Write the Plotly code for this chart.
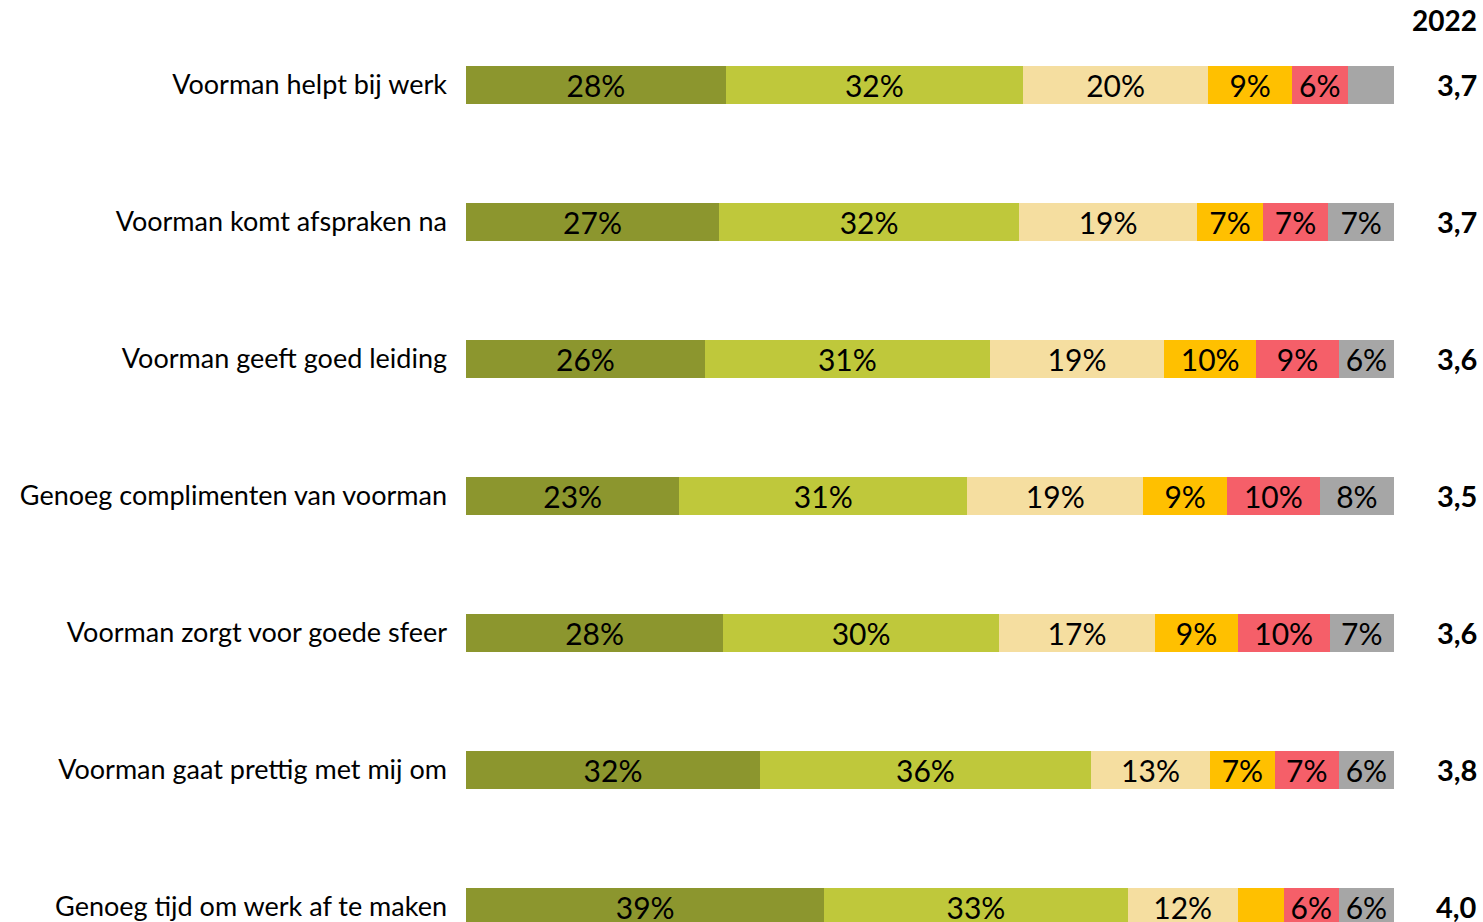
import plotly.graph_objects as go

# Survey statements (top to bottom)
categories = [
    "Voorman helpt bij werk",
    "Voorman komt afspraken na",
    "Voorman geeft goed leiding",
    "Genoeg complimenten van voorman",
    "Voorman zorgt voor goede sfeer",
    "Voorman gaat prettig met mij om",
    "Genoeg tijd om werk af te maken",
]

# Answer shares per statement (percent), one list per answer level
helemaal_eens = [28, 27, 26, 23, 28, 32, 39]
eens = [32, 32, 31, 31, 30, 36, 33]
neutraal = [20, 19, 19, 19, 17, 13, 12]
oneens = [9, 7, 10, 9, 9, 7, 5]
helemaal_oneens = [6, 7, 9, 10, 10, 7, 6]
weet_niet = [5, 7, 6, 8, 7, 6, 6]

# Average score per statement
year_label = "2022"
scores = ["3,7", "3,7", "3,6", "3,5", "3,6", "3,8", "4,0"]

series = [
    ("Helemaal eens", helemaal_eens, "#8C962E"),
    ("Eens", eens, "#BFC83B"),
    ("Neutraal", neutraal, "#F5DEA0"),
    ("Oneens", oneens, "#FFC000"),
    ("Helemaal oneens", helemaal_oneens, "#F55F69"),
    ("Weet niet", weet_niet, "#A6A6A6"),
]

FONT = "Lato, 'Open Sans', sans-serif"
MIN_LABEL = 6  # smaller segments stay unlabelled

fig = go.Figure()
for name, vals, color in series:
    fig.add_trace(go.Bar(
        name=name,
        y=categories,
        x=vals,
        orientation="h",
        marker=dict(color=color, line=dict(width=0)),
        width=0.274,
        text=[f"{v}%" if v >= MIN_LABEL else "" for v in vals],
        textposition="inside",
        insidetextanchor="middle",
        textangle=0,
        constraintext="none",
        cliponaxis=False,
        textfont=dict(family=FONT, size=30, color="#000000"),
        hoverinfo="skip",
    ))

# Header and average score column on the right
fig.add_annotation(
    text=f"<b>{year_label}</b>", xref="paper", yref="paper",
    x=1.0916, y=(922 - 20) / 892, xanchor="right", yanchor="middle",
    showarrow=False, font=dict(family=FONT, size=28, color="#000000"),
)
for cat, s in zip(categories, scores):
    fig.add_annotation(
        text=f"<b>{s}</b>", xref="paper", yref="y",
        x=1.0916, y=cat, xanchor="right", yanchor="middle",
        showarrow=False, font=dict(family=FONT, size=29, color="#000000"),
    )

fig.update_layout(
    barmode="stack",
    barnorm="percent",
    width=1483,
    height=922,
    margin=dict(l=466, r=89, t=30, b=0, pad=0),
    paper_bgcolor="white",
    plot_bgcolor="white",
    showlegend=False,
    font=dict(family=FONT, color="#000000"),
)
# tiny headroom so the normalised 100% end never falls outside the axis
fig.update_xaxes(range=[0, 100.001], visible=False, showgrid=False, zeroline=False)
fig.update_yaxes(
    type="category",
    categoryorder="array",
    categoryarray=categories,
    range=[6.11, -0.4],
    showgrid=False,
    zeroline=False,
    showline=False,
    ticks="",
    ticklabelstandoff=18,
    tickfont=dict(family=FONT, size=27, color="#000000"),
)

fig.write_html("out.html")
